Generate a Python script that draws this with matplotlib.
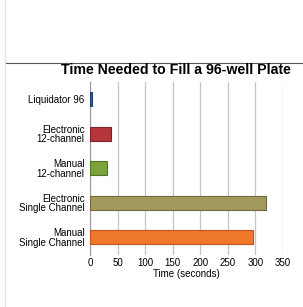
import matplotlib
matplotlib.use("Agg")
import matplotlib.pyplot as plt
from matplotlib.lines import Line2D

plt.rcParams["font.family"] = ["Liberation Sans", "DejaVu Sans"]

categories = ["Liquidator 96", "Electronic\n12-channel", "Manual\n12-channel",
              "Electronic\nSingle Channel", "Manual\nSingle Channel"]
times = [3, 39, 30, 320, 295]
colors = ["#2b5fb0", "#b5363b", "#7ba33a", "#a39b5e", "#f0782a"]
edges = ["#1d3f7a", "#7e2226", "#55742a", "#6f6a3e", "#c0521a"]
xticks = [0, 50, 100, 150, 200, 250, 300, 350]

fig = plt.figure(figsize=(3.03, 3.07), dpi=100)
ax = fig.add_axes([0.297, 0.171, 0.637, 0.562])

ypos = list(range(len(categories)))
ax.barh(ypos, times, height=0.4, color=colors, edgecolor=edges, linewidth=0.8, zorder=3)
ax.set_ylim(len(categories) - 0.5, -0.5)
ax.set_yticks(ypos)
ax.set_yticklabels(categories, fontsize=7, linespacing=0.95)
ax.set_xlim(0, 350)
ax.set_xticks(xticks)
ax.set_xticklabels([str(t) for t in xticks], fontsize=7)
ax.tick_params(length=0, pad=4)
ax.tick_params(axis="x", pad=2.5)
ax.xaxis.grid(True, color="#c4c4c4", linewidth=0.9, zorder=0)
for s in ["top", "right", "bottom"]:
    ax.spines[s].set_visible(False)
ax.spines["left"].set_color("#9a9a9a")
ax.spines["left"].set_linewidth(0.8)
ax.set_xlabel("Time (seconds)", fontsize=7, labelpad=0.5)

fig.text(0.581, 0.771, "Time Needed to Fill a 96-well Plate", ha="center", va="center",
         fontsize=10.2, fontweight="bold")

fig.add_artist(Line2D([0.017, 1.0], [0.795, 0.795], transform=fig.transFigure,
                      color="#555555", linewidth=0.8))
fig.add_artist(Line2D([0.017, 0.017], [0.0, 1.0], transform=fig.transFigure,
                      color="#d6e4f0", linewidth=0.8))

fig.savefig("out.png", dpi=100)
